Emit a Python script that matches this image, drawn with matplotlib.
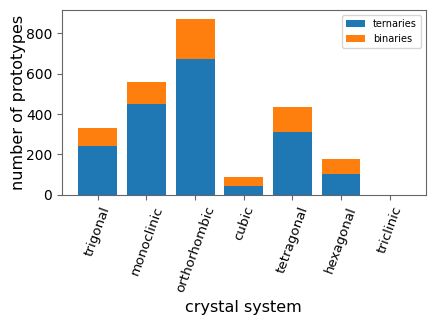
import matplotlib
matplotlib.use("Agg")
import matplotlib.pyplot as plt
import numpy as np

categories = ["trigonal", "monoclinic", "orthorhombic", "cubic", "tetragonal", "hexagonal", "triclinic"]
ternaries = [240, 450, 673, 45, 313, 104, 0]
binaries = [90, 108, 198, 44, 124, 76, 0]

fig = plt.figure(figsize=(4.36, 3.27), dpi=100)
ax = fig.add_axes([0.142, 0.404, 0.834, 0.565])
x = np.arange(len(categories))
ax.bar(x, ternaries, label="ternaries", color="#1f77b4")
ax.bar(x, binaries, bottom=ternaries, label="binaries", color="#ff7f0e")
ax.set_xticks(x)
ax.set_xticklabels(categories, rotation=70, fontsize=9.6)
ax.tick_params(axis="y", labelsize=10)
ax.tick_params(color="#666666")
for s in ax.spines.values():
    s.set_color("#666666")
ax.set_ylabel("number of prototypes", fontsize=11.5, labelpad=0)
ax.set_xlabel("crystal system", fontsize=11.5)
ax.legend(fontsize=7)
fig.savefig("out.png", dpi=100)
